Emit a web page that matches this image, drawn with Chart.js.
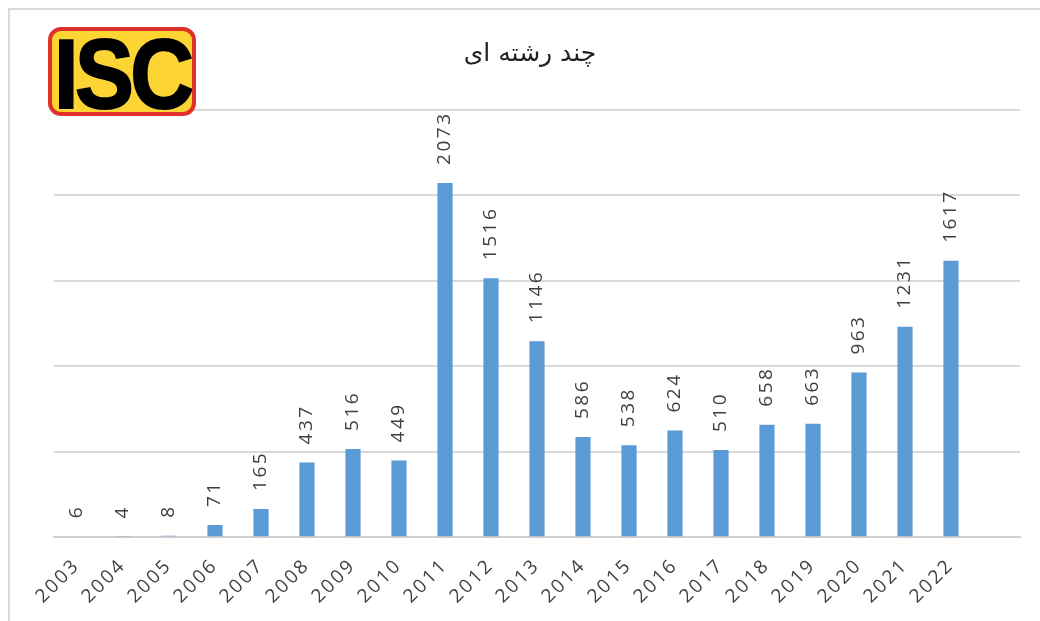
<!DOCTYPE html>
<html>
<head>
<meta charset="utf-8">
<script src="https://cdn.jsdelivr.net/npm/chart.js@4.4.1/dist/chart.umd.min.js"></script>
<style>
  html, body { margin: 0; padding: 0; background: #fff; }
  #wrap { position: relative; width: 1040px; height: 621px; overflow: hidden; }
  #frame { position: absolute; left: 8px; top: 8px; width: 1100px; height: 700px;
           border: 2px solid #d9d9d9; box-sizing: border-box; }
  #chart { position: absolute; left: 0; top: 0; }
  #title { position: absolute; left: 400px; top: 38px; width: 260px; text-align: center;
           font-family: "DejaVu Sans", sans-serif; font-size: 25px; color: #222; direction: rtl; }
  #logo { position: absolute; left: 48px; top: 27px; width: 148px; height: 89px; box-sizing: border-box;
          background: #fcd535; border: 4px solid #e0302a; border-radius: 13px; overflow: hidden; }
  #logo span { position: absolute; left: 2px; top: -13px; font-family: "Liberation Sans", Arial, sans-serif;
               font-weight: bold; font-size: 98px; color: #000; letter-spacing: -4px;
               transform: scaleX(0.9); transform-origin: left top; -webkit-text-stroke: 2px #000; }
</style>
</head>
<body>
<div id="wrap">
  <div id="frame"></div>
  <canvas id="chart" width="1040" height="621"></canvas>
  <div id="logo"><span>ISC</span></div>
  <div id="title">چند رشته ای</div>
</div>
<script>
// years (the trailing empty slot keeps the gap after 2022)
const years = ["2003", "2004", "2005", "2006", "2007", "2008", "2009", "2010", "2011", "2012",
               "2013", "2014", "2015", "2016", "2017", "2018", "2019", "2020", "2021", "2022", ""];
const counts = [6, 4, 8, 71, 165, 437, 516, 449, 2073, 1516,
                1146, 586, 538, 624, 510, 658, 663, 963, 1231, 1617, null];
const yMin = 0;
const yMax = 2500;
const yStep = 500;

const barBlue = '#5b9bd5';

// spacing for the digit texts drawn on the canvas
const spacingPlugin = {
    id: 'spacing',
    beforeDraw(chart) {
        chart.ctx.letterSpacing = '2.5px';
    }
};

// vertical value labels above each bar
const valueLabels = {
    id: 'valueLabels',
    afterDatasetsDraw(chart) {
        const ctx = chart.ctx;
        const meta = chart.getDatasetMeta(0);
        ctx.save();
        ctx.letterSpacing = '2.5px';
        ctx.font = '19px "Open Sans", sans-serif';
        ctx.fillStyle = '#404040';
        ctx.textAlign = 'left';
        ctx.textBaseline = 'middle';
        meta.data.forEach((bar, i) => {
            const v = counts[i];
            if (v === null || v === undefined) return;
            ctx.save();
            ctx.translate(bar.x, bar.y - 18);
            ctx.rotate(-Math.PI / 2);
            ctx.fillText(String(v), 0, 0);
            ctx.restore();
        });
        ctx.restore();
    }
};

new Chart(document.getElementById('chart'), {
    type: 'bar',
    data: {
        labels: years,
        datasets: [{
            data: counts,
            backgroundColor: barBlue,
            barPercentage: 0.33,
            categoryPercentage: 1.0
        }]
    },
    options: {
        responsive: false,
        animation: false,
        layout: { padding: { left: 54, right: 20, top: 110, bottom: 11 } },
        plugins: {
            legend: { display: false },
            tooltip: { enabled: false },
            title: { display: false }
        },
        scales: {
            x: {
                grid: { display: false },
                border: { display: true, color: '#d0d0d0', width: 2 },
                ticks: {
                    autoSkip: false,
                    maxRotation: 45,
                    minRotation: 45,
                    padding: 9,
                    color: '#404040',
                    font: { family: '"Open Sans", sans-serif', size: 19 }
                }
            },
            y: {
                min: yMin,
                max: yMax,
                ticks: { display: false, stepSize: yStep },
                grid: { color: '#d9d9d9', lineWidth: 2, drawTicks: false },
                border: { display: false }
            }
        }
    },
    plugins: [spacingPlugin, valueLabels]
});
</script>
</body>
</html>
